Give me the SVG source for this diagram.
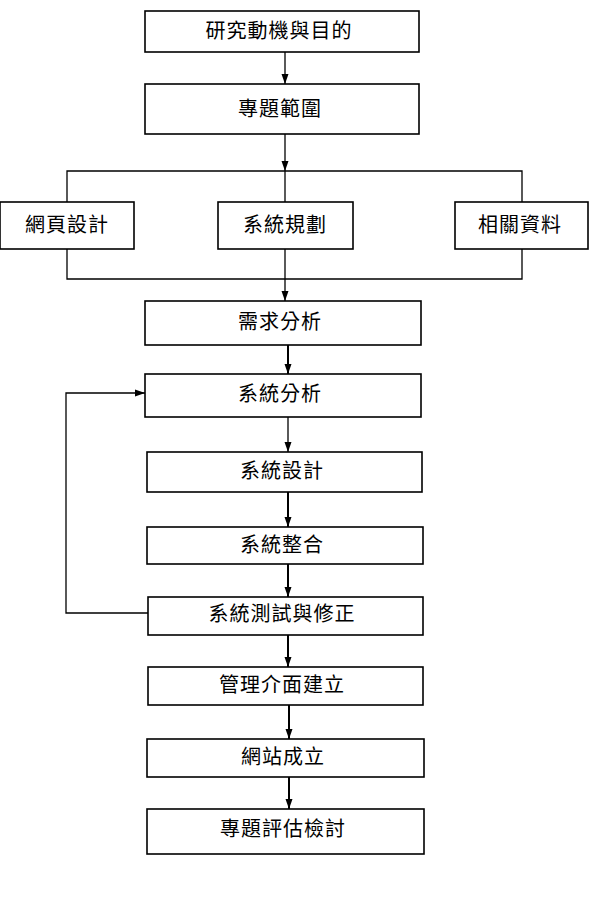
<svg xmlns="http://www.w3.org/2000/svg" width="591" height="897" viewBox="0 0 591 897">
<style>
.box{fill:#fff;stroke:#000;stroke-width:1.6}
.t{font-family:"Liberation Sans","Noto Sans CJK TC",sans-serif;font-size:20px;fill:#000;text-anchor:middle;dominant-baseline:central;letter-spacing:1px}
.c{fill:none;stroke:#000;stroke-width:1.3}
.c2{fill:none;stroke:#000;stroke-width:2}
</style>
<defs>
<marker id="ah" markerUnits="userSpaceOnUse" markerWidth="10" markerHeight="10" viewBox="0 0 10 10" refX="10" refY="5" orient="auto">
<path d="M0,1.5 L10,5 L0,8.5 Z" fill="#000"/>
</marker>
</defs>
<rect width="591" height="897" fill="#fff"/>
<g id="connectors">
<line class="c" x1="285" y1="52" x2="285" y2="84" marker-end="url(#ah)"/>
<line class="c" x1="285" y1="134" x2="285" y2="171" marker-end="url(#ah)"/>
<line class="c" x1="285" y1="171" x2="285" y2="202"/>
<polyline class="c" points="67,202 67,171 522,171 522,202"/>
<polyline class="c" points="67,249 67,279 522,279 522,249"/>
<line class="c" x1="285" y1="249" x2="285" y2="301" marker-end="url(#ah)"/>
<line class="c2" x1="288" y1="345" x2="288" y2="374" marker-end="url(#ah)"/>
<line class="c" x1="288" y1="417" x2="288" y2="452" marker-end="url(#ah)"/>
<line class="c2" x1="288" y1="492" x2="288" y2="527" marker-end="url(#ah)"/>
<line class="c2" x1="288" y1="564" x2="288" y2="597" marker-end="url(#ah)"/>
<line class="c2" x1="288" y1="635" x2="288" y2="667" marker-end="url(#ah)"/>
<line class="c2" x1="289" y1="705" x2="289" y2="739" marker-end="url(#ah)"/>
<line class="c2" x1="289" y1="777" x2="289" y2="809" marker-end="url(#ah)"/>
<polyline class="c" points="148,613 66,613 66,393 145,393" marker-end="url(#ah)"/>
</g>
<g id="n1"><rect class="box" x="145" y="11" width="274" height="41"/><text class="t" x="279" y="31">研究動機與目的</text></g>
<g id="n2"><rect class="box" x="145" y="84" width="274" height="50"/><text class="t" x="280" y="109">專題範圍</text></g>
<g id="n3"><rect class="box" x="0" y="202" width="134" height="47"/><text class="t" x="67" y="225">網頁設計</text></g>
<g id="n4"><rect class="box" x="218" y="202" width="135" height="47"/><text class="t" x="285" y="225">系統規劃</text></g>
<g id="n5"><rect class="box" x="455" y="202" width="133" height="47"/><text class="t" x="520" y="225">相關資料</text></g>
<g id="n6"><rect class="box" x="145" y="301" width="276" height="44"/><text class="t" x="280" y="322">需求分析</text></g>
<g id="n7"><rect class="box" x="145" y="374" width="276" height="43"/><text class="t" x="280" y="394">系統分析</text></g>
<g id="n8"><rect class="box" x="147" y="452" width="275" height="40"/><text class="t" x="282" y="471">系統設計</text></g>
<g id="n9"><rect class="box" x="147" y="527" width="276" height="37"/><text class="t" x="282" y="545">系統整合</text></g>
<g id="n10"><rect class="box" x="148" y="597" width="275" height="38"/><text class="t" x="282" y="614">系統測試與修正</text></g>
<g id="n11"><rect class="box" x="148" y="667" width="275" height="38"/><text class="t" x="282" y="685">管理介面建立</text></g>
<g id="n12"><rect class="box" x="147" y="739" width="277" height="38"/><text class="t" x="283" y="757">網站成立</text></g>
<g id="n13"><rect class="box" x="147" y="809" width="277" height="45"/><text class="t" x="283" y="829">專題評估檢討</text></g>
</svg>
